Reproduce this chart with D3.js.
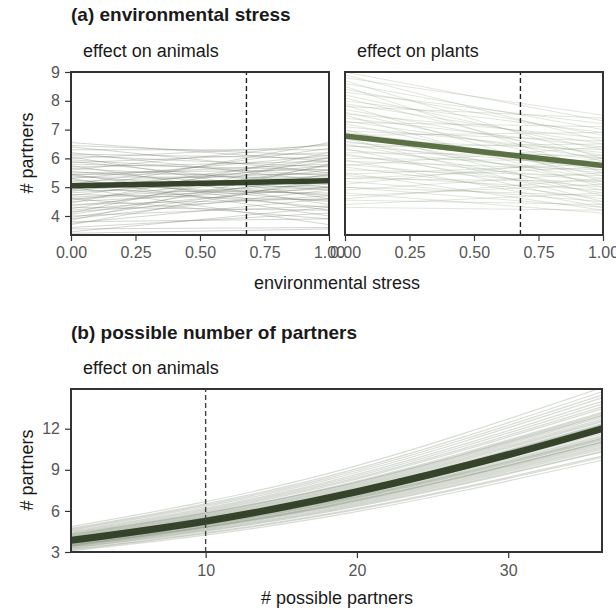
<!DOCTYPE html>
<html>
<head>
<meta charset="utf-8">
<script src="https://cdn.jsdelivr.net/npm/d3@7"></script>
<style>
  body { margin: 0; background: #fff; }
  text { font-family: "Liberation Sans", Arial, sans-serif; }
</style>
</head>
<body>
<script>
'use strict';

// ---- data ----
const stressTicks = [0, 0.25, 0.5, 0.75, 1];
const stressRef = 0.68;
const stressYTicks = [4, 5, 6, 7, 8, 9];

// [value at stress 0, value at stress 1]
const animalMean = [5.05, 5.22];
const animalDraws = [
  [6.55, 5.9], [6.45, 6.1], [6.4, 5.5], [6.3, 6.3], [6.2, 5.2], [6.15, 6.0],
  [6.1, 5.7], [6.05, 4.6], [6.0, 6.45], [5.95, 5.4], [5.9, 5.0], [5.85, 6.2],
  [5.8, 5.6], [5.75, 4.4], [5.7, 5.9], [5.65, 5.2], [5.6, 6.5], [5.55, 4.9],
  [5.5, 5.6], [5.45, 4.2], [5.42, 5.8], [5.4, 4.7], [5.35, 5.35], [5.3, 6.1],
  [5.25, 4.5], [5.2, 5.5], [5.15, 5.0], [5.1, 6.35], [5.05, 4.3], [5.0, 5.75],
  [4.95, 5.2], [4.9, 4.8], [4.85, 6.0], [4.8, 5.4], [4.75, 4.55], [4.7, 5.9],
  [4.65, 5.1], [4.6, 3.9], [4.55, 5.6], [4.5, 4.95], [4.45, 6.2], [4.4, 4.6],
  [4.35, 5.3], [4.3, 4.2], [4.25, 5.75], [4.2, 5.0], [4.15, 4.7], [4.1, 6.05],
  [4.05, 5.45], [4.0, 4.35], [3.95, 5.2], [3.9, 4.9], [3.85, 5.8], [3.8, 3.9],
  [3.75, 4.6], [3.7, 5.3], [3.6, 4.1], [3.55, 3.6], [3.45, 4.3], [3.4, 3.55],
  [5.0, 3.7], [4.9, 6.55], [5.3, 4.0], [5.45, 5.45], [5.1, 4.75], [4.6, 5.0]
];

const plantMean = [6.78, 5.75];
const plantDraws = [
  [9.0, 7.3], [8.9, 6.6], [8.8, 7.5], [8.7, 6.0], [8.6, 7.0], [8.5, 5.5],
  [8.4, 6.8], [8.3, 7.2], [8.2, 6.3], [8.1, 5.9], [8.0, 6.9], [7.9, 6.5],
  [7.85, 5.2], [7.8, 7.4], [7.7, 6.1], [7.6, 5.7], [7.55, 6.7], [7.5, 5.0],
  [7.4, 6.4], [7.3, 6.0], [7.25, 7.1], [7.2, 5.4], [7.1, 6.2], [7.0, 4.7],
  [6.95, 6.6], [6.9, 5.8], [6.85, 5.1], [6.8, 6.9], [6.75, 5.6], [6.7, 4.5],
  [6.65, 6.3], [6.6, 5.3], [6.55, 6.0], [6.5, 4.9], [6.45, 5.7], [6.4, 6.5],
  [6.35, 4.4], [6.3, 5.5], [6.2, 6.1], [6.15, 4.8], [6.1, 5.2], [6.0, 5.9],
  [5.95, 4.3], [5.9, 5.6], [5.8, 5.0], [5.75, 6.4], [5.7, 4.6], [5.6, 5.4],
  [5.5, 4.2], [5.45, 5.8], [5.4, 4.9], [5.3, 5.2], [5.2, 4.5], [5.1, 6.0],
  [5.0, 4.7], [4.9, 5.5], [4.8, 4.1], [4.7, 5.1], [4.55, 4.4], [4.4, 4.8],
  [4.3, 4.2], [5.0, 4.3], [5.3, 5.7], [4.6, 5.3]
];

const partnerXTicks = [10, 20, 30];
const partnerYTicks = [3, 6, 9, 12];
const partnerRef = 10;
const partnerX = [1.1, 10, 20, 30, 36.2];
const partnerMean = [3.85, 5.25, 7.4, 10.1, 12.0];
const partnerDrawX = [1.1, 18, 36.2];
const partnerDraws = [
  [3.08, 5.56, 9.7], [3.15, 5.7, 9.9], [3.2, 5.77, 10.0], [3.27, 5.91, 10.3],
  [3.3, 5.98, 10.35], [3.35, 6.05, 10.5], [3.39, 6.12, 10.6], [3.43, 6.2, 10.7],
  [3.47, 6.26, 10.8], [3.5, 6.32, 10.9], [3.52, 6.36, 11.0], [3.54, 6.39, 11.05],
  [3.58, 6.46, 11.15], [3.6, 6.5, 11.2], [3.62, 6.53, 11.3], [3.66, 6.6, 11.4],
  [3.7, 6.67, 11.5], [3.73, 6.74, 11.65], [3.77, 6.81, 11.75], [3.81, 6.88, 11.9],
  [3.85, 6.95, 12.0], [3.89, 7.02, 12.1], [3.93, 7.09, 12.25], [3.97, 7.16, 12.35],
  [4.0, 7.23, 12.5], [4.04, 7.3, 12.6], [4.08, 7.37, 12.7], [4.12, 7.44, 12.85],
  [4.16, 7.51, 12.95], [4.2, 7.58, 13.1], [4.24, 7.65, 13.2], [4.31, 7.78, 13.45],
  [4.37, 7.88, 13.6], [4.43, 7.99, 13.8], [4.5, 8.1, 14.0], [4.58, 8.25, 14.25],
  [4.65, 8.38, 14.45], [4.72, 8.5, 14.7], [4.85, 8.7, 15.0], [3.7, 6.6, 11.3],
  [4.0, 7.1, 12.2], [3.45, 6.3, 11.0], [4.3, 7.6, 13.0], [3.9, 7.05, 12.3]
];

// ---- layout ----
const svg = d3.select('body').append('svg')
  .attr('width', 616)
  .attr('height', 611);

const topY = d3.scaleLinear().domain([3.34, 9]).range([235, 72]);
const leftX = d3.scaleLinear().domain([0, 1]).range([71, 329]);
const rightX = d3.scaleLinear().domain([0, 1]).range([345, 603]);
const botX = d3.scaleLinear().domain([1.1, 36.2]).range([71, 602]);
const botY = d3.scaleLinear().domain([3, 14.9]).range([552, 389]);

const thinColor = '#7f8c75';

function clipFor(id, x, y) {
  svg.append('clipPath').attr('id', id)
    .append('rect')
    .attr('x', x.range()[0]).attr('y', y.range()[1])
    .attr('width', x.range()[1] - x.range()[0])
    .attr('height', y.range()[0] - y.range()[1]);
}

function frame(x, y) {
  svg.append('rect')
    .attr('x', x.range()[0]).attr('y', y.range()[1])
    .attr('width', x.range()[1] - x.range()[0])
    .attr('height', y.range()[0] - y.range()[1])
    .attr('fill', 'none')
    .attr('stroke', '#333')
    .attr('stroke-width', 2);
}

function styleAxis(g) {
  g.select('.domain').remove();
  g.selectAll('.tick line').attr('stroke', '#333').attr('stroke-width', 1.2);
  g.selectAll('.tick text')
    .attr('fill', '#555')
    .style('font-size', '16px')
    .style('font-family', '"Liberation Sans", Arial, sans-serif');
}

function straightPanel(id, x, y, draws, mean, thin, thick, thinOpacity) {
  clipFor(id, x, y);
  const g = svg.append('g').attr('clip-path', 'url(#' + id + ')');
  const line = d3.line()
    .x((d, i) => x(i))
    .y(d => y(d));
  g.selectAll('.draw')
    .data(draws)
    .enter()
    .append('path')
      .attr('class', 'draw')
      .attr('d', line)
      .attr('fill', 'none')
      .attr('stroke', thin)
      .attr('stroke-opacity', thinOpacity)
      .attr('stroke-width', 1);
  g.append('path')
    .attr('d', line(mean))
    .attr('fill', 'none')
    .attr('stroke', thick)
    .attr('stroke-width', 5.5);
  // reference stress level
  g.append('line')
    .attr('x1', x(stressRef)).attr('x2', x(stressRef))
    .attr('y1', y.range()[0]).attr('y2', y.range()[1])
    .attr('stroke', '#222')
    .attr('stroke-width', 1.4)
    .attr('stroke-dasharray', '5,3');

  svg.append('g')
    .attr('transform', 'translate(0,' + y.range()[0] + ')')
    .call(d3.axisBottom(x).tickValues(stressTicks).tickFormat(d3.format('.2f'))
      .tickSize(6).tickPadding(6))
    .call(styleAxis);
  frame(x, y);
}

// ---- (a) environmental stress ----
straightPanel('clipA', leftX, topY, animalDraws, animalMean, '#6f7a66', '#34432a', 0.3);
straightPanel('clipB', rightX, topY, plantDraws, plantMean, '#93a584', '#5b7044', 0.28);

svg.append('g')
  .attr('transform', 'translate(71,0)')
  .call(d3.axisLeft(topY).tickValues(stressYTicks).tickFormat(d3.format('d'))
    .tickSize(6).tickPadding(5))
  .call(styleAxis);

// ---- (b) possible number of partners ----
clipFor('clipC', botX, botY);
const gb = svg.append('g').attr('clip-path', 'url(#clipC)');
const drawLine = d3.line()
  .x((d, i) => botX(partnerDrawX[i]))
  .y(d => botY(d))
  .curve(d3.curveNatural);
gb.selectAll('.pdraw')
  .data(partnerDraws)
  .enter()
  .append('path')
    .attr('class', 'pdraw')
    .attr('d', drawLine)
    .attr('fill', 'none')
    .attr('stroke', thinColor)
    .attr('stroke-opacity', 0.3)
    .attr('stroke-width', 1.2);
const meanLine = d3.line()
  .x((d, i) => botX(partnerX[i]))
  .y(d => botY(d))
  .curve(d3.curveNatural);
gb.append('path')
  .attr('d', meanLine(partnerMean))
  .attr('fill', 'none')
  .attr('stroke', '#34432a')
  .attr('stroke-width', 7);
gb.append('line')
  .attr('x1', botX(partnerRef)).attr('x2', botX(partnerRef))
  .attr('y1', botY.range()[0]).attr('y2', botY.range()[1])
  .attr('stroke', '#444')
  .attr('stroke-width', 1.4)
  .attr('stroke-dasharray', '5,3');

svg.append('g')
  .attr('transform', 'translate(0,552)')
  .call(d3.axisBottom(botX).tickValues(partnerXTicks).tickSize(6).tickPadding(7))
  .call(styleAxis);
svg.append('g')
  .attr('transform', 'translate(71,0)')
  .call(d3.axisLeft(botY).tickValues(partnerYTicks).tickSize(6).tickPadding(5))
  .call(styleAxis);
frame(botX, botY);

// ---- labels ----
function label(x, y, txt, size, weight, anchor) {
  return svg.append('text')
    .attr('x', x).attr('y', y)
    .attr('text-anchor', anchor || 'start')
    .style('font-size', size + 'px')
    .style('font-weight', weight || 'normal')
    .attr('fill', '#1a1a1a')
    .text(txt);
}

label(71, 21, '(a) environmental stress', 19, 'bold');
label(83, 57, 'effect on animals', 18);
label(357, 57, 'effect on plants', 18);
label(337, 289, 'environmental stress', 18, 'normal', 'middle');

label(71, 339, '(b) possible number of partners', 19, 'bold');
label(83, 374, 'effect on animals', 18);
label(337, 604, '# possible partners', 18, 'normal', 'middle');

svg.append('text')
  .attr('transform', 'translate(33,153)rotate(-90)')
  .attr('text-anchor', 'middle')
  .style('font-size', '18px')
  .attr('fill', '#1a1a1a')
  .text('# partners');
svg.append('text')
  .attr('transform', 'translate(33,470)rotate(-90)')
  .attr('text-anchor', 'middle')
  .style('font-size', '18px')
  .attr('fill', '#1a1a1a')
  .text('# partners');
</script>
</body>
</html>
